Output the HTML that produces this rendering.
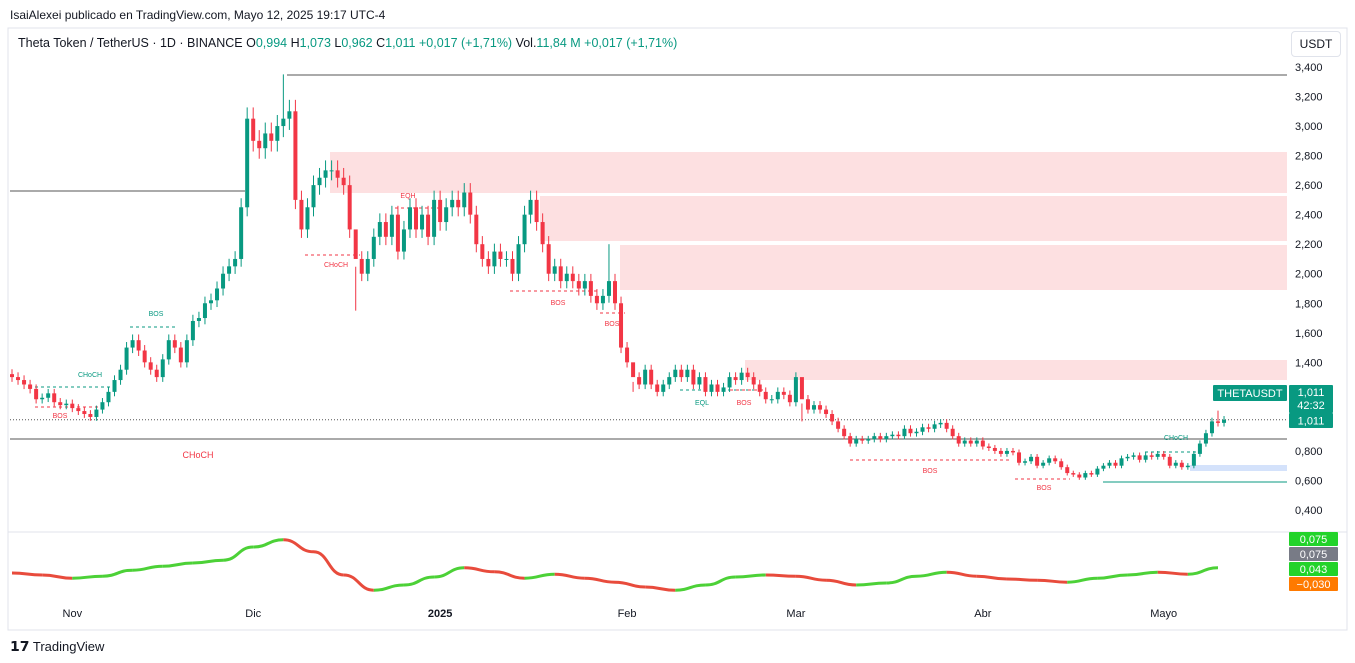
<!DOCTYPE html>
<html><head><meta charset="utf-8">
<style>
body{margin:0;width:1355px;height:663px;background:#fff;font-family:"Liberation Sans",sans-serif;overflow:hidden;position:relative}
.t{position:absolute;white-space:nowrap}
</style></head><body>
<div class="t" style="left:10px;top:8px;font-size:12px;color:#131722">IsaiAlexei publicado en TradingView.com, Mayo 12, 2025 19:17 UTC-4</div>
<svg id="c" width="1355" height="663" style="position:absolute;left:0;top:0"></svg>
<div class="t" style="left:18px;top:36px;font-size:12.5px;color:#131722">Theta Token / TetherUS · 1D · BINANCE <span style="color:#131722">O</span><span style="color:#089981">0,994</span> H<span style="color:#089981">1,073</span> L<span style="color:#089981">0,962</span> C<span style="color:#089981">1,011</span> <span style="color:#089981">+0,017 (+1,71%)</span> Vol.<span style="color:#089981">11,84 M</span> <span style="color:#089981">+0,017 (+1,71%)</span></div>
<div class="t" style="left:1291px;top:31px;width:48px;height:24px;border:1px solid #e0e3eb;border-radius:4px;font-size:12px;line-height:24px;text-align:center;color:#131722">USDT</div>
<div class="t" style="left:10px;top:638px;font-size:13px;color:#131722"><b style="font-size:14px">𝟭𝟳</b> TradingView</div>
<script>
const closes=[1300,1280,1250,1220,1150,1160,1190,1130,1110,1120,1090,1070,1050,1030,
1080,1130,1200,1280,1350,1500,1550,1480,1400,1350,1300,1420,1550,1500,1400,
1550,1680,1700,1800,1820,1900,2000,2050,2100,2450,3050,2900,2850,2950,2900,3000,3050,3100,
2500,2300,2450,2600,2650,2700,2700,2650,2600,2300,2100,2000,
2100,2250,2350,2250,2400,2150,2300,2450,2300,2400,2250,2500,2350,2450,2500,2450,2550,
2400,2200,2100,2050,2150,2100,2100,2000,2200,2400,2500,2350,2200,2000,2050,
1950,2000,1950,1900,1950,1850,1800,1850,1950,1800,1500,1400,1300,1250,
1350,1250,1200,1250,1300,1350,1300,1350,1250,1300,1200,1250,1200,1230,1300,1280,1330,1300,1250,
1200,1150,1150,1200,1180,1130,1300,1150,1080,1110,1080,1050,1000,950,900,850,880,
870,880,900,880,900,910,900,950,920,930,960,950,980,990,950,900,850,870,
850,870,830,820,800,780,800,790,720,730,760,700,720,750,730,690,650,640,620,
650,640,680,700,720,700,750,760,770,740,770,760,780,760,700,720,690,700,780,
850,920,1000,990,1011];
const highOverrides={45:3350,57:1750,99:2200,103:1200,131:1000,200:1073};
const priceTicks=[3400,3200,3000,2800,2600,2400,2200,2000,1800,1600,1400,800,600,400];
const monthLabels=["Nov","Dic","2025","Feb","Mar","Abr","Mayo"];
const monthDays=[10,40,71,102,130,161,191];
const osc=[.005,0,-.008,-.003,.012,.022,.03,.037,.07,.088,.058,0,-.038,-.025,-.005,.018,.008,-.008,.002,-.008,-.018,-.03,-.038,-.025,-.005,0,-.003,-.013,-.025,-.02,-.003,.007,-.003,-.01,-.013,-.018,-.008,0,.007,.002,.018];
const oscLabels=["0,075","0,075","0,043","−0,030"];

const S=document.getElementById('c'),NS='http://www.w3.org/2000/svg';
function el(t,a,txt){const e=document.createElementNS(NS,t);for(const k in a)e.setAttribute(k,a[k]);if(txt!=null)e.textContent=txt;S.appendChild(e);return e;}
const X=i=>12+i*6.03, Y=p=>510-(p-400)*0.14767, OY=v=>575-v*400;
let f=el('rect',{x:8,y:28,width:1339,height:602,fill:'none',stroke:'#e0e3eb'});

let d=el('line',{x1:8,y1:532,x2:1347,y2:532,stroke:'#e0e3eb'});

const zones=[[330,152,193],[540,196,241],[620,245,290],[745,360,380]];
zones.forEach(z=>{const r=el('rect',{x:z[0],y:z[1],width:1287-z[0],height:z[2]-z[1],fill:'#fde0e1'});
});
let bz=el('rect',{x:1190,y:465,width:97,height:6,fill:'#d4e2fb'});

[[287,75,1287,75,'#555'],[10,191,245,191,'#555'],[10,439,1287,439,'#555'],[1103,482,1287,482,'#089981']].forEach(l=>{
const e=el('line',{x1:l[0],y1:l[1],x2:l[2],y2:l[3],stroke:l[4],'stroke-width':1});
});
let cp=el('line',{x1:10,y1:Y(1011),x2:1287,y2:Y(1011),stroke:'#555','stroke-dasharray':'1 2'});

const labs=[[35,407,100,'BOS',60,418,'#f23645'],[35,387,115,'CHoCH',90,377,'#089981'],[130,327,175,'BOS',156,316,'#089981'],
[305,255,360,'CHoCH',336,267,'#f23645'],[395,208,440,'EQH',408,198,'#f23645'],[510,291,600,'BOS',558,305,'#f23645'],
[600,313,625,'BOS',612,326,'#f23645'],[680,390,760,'EQL',702,405,'#089981'],[730,390,765,'BOS',744,405,'#f23645'],
[850,460,1010,'BOS',930,473,'#f23645'],[1015,479,1070,'BOS',1044,490,'#f23645'],[1145,452,1200,'CHoCH',1176,440,'#089981']];
labs.forEach(l=>{const e=el('line',{x1:l[0],y1:l[1],x2:l[2],y2:l[1],stroke:l[6],'stroke-dasharray':'3 3'});

const t=el('text',{x:l[4],y:l[5],'font-size':7,fill:l[6],'text-anchor':'middle'},l[3]);
});
let ch=el('text',{x:198,y:458,'font-size':9,fill:'#f23645','text-anchor':'middle'},'CHoCH');

closes.forEach((c,i)=>{const o=i?closes[i-1]:1320;const up=c>=o;const col=up?'#089981':'#f23645';
const hi=highOverrides[i]||Math.max(o,c)*1.025, lo=Math.min(o,c)*0.975;const x=X(i);
const w=el('line',{x1:x,y1:Y(hi),x2:x,y2:Y(lo),stroke:col});

const yt=Y(Math.max(o,c)),yb=Y(Math.min(o,c));
const b=el('rect',{x:x-2,y:yt,width:4,height:Math.max(1,yb-yt),fill:col});
});
priceTicks.forEach(p=>{const t=el('text',{x:1295,y:Y(p)+4,'font-size':11,fill:'#131722'},(p/1000).toFixed(3).replace('.',','));
});
function box(x,y,w,h,fill,txt,fs,name,col){const r=el('rect',{x:x,y:y,width:w,height:h,fill:fill,rx:1});

const t=el('text',{x:x+w/2,y:y+h/2+4,'font-size':fs,fill:col||'#fff','text-anchor':'middle'},txt);
}
box(1213,385,74,16,'#089981','THETAUSDT',11,'symbol-tag');
box(1289,385,44,28,'#089981','',11,'price-tag');
let a1=el('text',{x:1311,y:396,'font-size':11,fill:'#fff','text-anchor':'middle'},'1,011');
let a2=el('text',{x:1311,y:409,'font-size':11,fill:'#fff','text-anchor':'middle'},'42:32');
box(1289,413,44,15,'#089981','1,011',11,'last-price-tag');
monthLabels.forEach((m,i)=>{const t=el('text',{x:X(monthDays[i]),y:617,'font-size':11,fill:'#131722','text-anchor':'middle','font-weight':m==='2025'?'bold':'normal'},m);
});
const pts=osc.map((v,k)=>[X(k*5),OY(v)]);
for(let k=1;k<pts.length;k++){const p0=pts[k-1],p1=pts[k],mx=(p0[0]+p1[0])/2;
const col=osc[k]>=osc[k-1]?'#4cd137':'#e84b3c';
const s=el('path',{d:`M${p0[0]},${p0[1]} C${mx},${p0[1]} ${mx},${p1[1]} ${p1[0]},${p1[1]}`,fill:'none',stroke:col,'stroke-width':3});
}
const oc=['#22d32a','#787b86','#22d32a','#ff7a00'];
oscLabels.forEach((t,k)=>box(1289,532+k*15,49,14,oc[k],t,11,'osc-tag'));
</script>
</body></html>
